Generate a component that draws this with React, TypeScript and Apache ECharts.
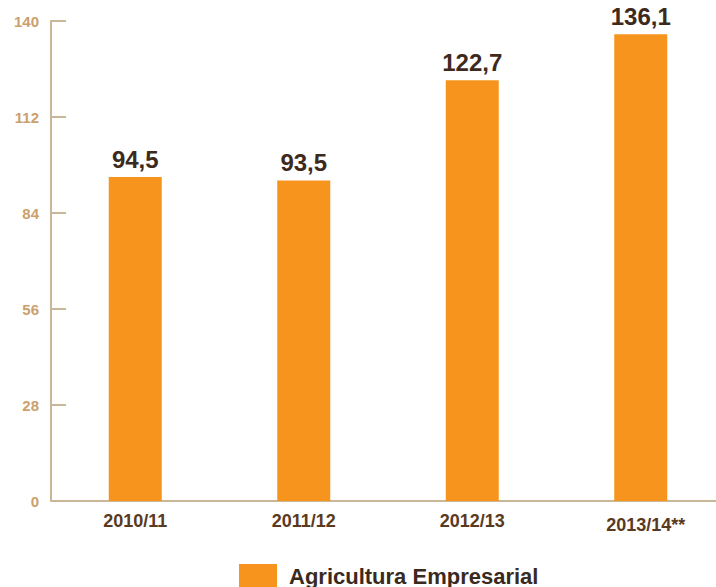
import React, { useEffect, useRef } from "react";
import * as echarts from "echarts";

const categories = ["2010/11", "2011/12", "2012/13", "2013/14**"];
const values = [94.5, 93.5, 122.7, 136.1];
const seriesName = "Agricultura Empresarial";
const yTicks = [0, 28, 56, 84, 112, 140];

const AXIS = "#C8B898";
const ORANGE = "#F7941E";
const FONT = "'Liberation Sans', Arial, sans-serif";

export default function App() {
  const ref = useRef<HTMLDivElement>(null);

  useEffect(() => {
    if (!ref.current) return;
    const chart = echarts.init(ref.current, undefined, { renderer: "svg" });
    chart.setOption({
      animation: false,
      backgroundColor: "#ffffff",
      // the x axis runs on past the right edge of the visible area
      grid: { left: 51, top: 21, width: 674, height: 480, containLabel: false },
      legend: {
        data: [seriesName],
        left: 239,
        top: 564,
        padding: 0,
        itemWidth: 38,
        itemHeight: 24,
        itemGap: 10,
        icon: "rect",
        textStyle: { fontFamily: FONT, fontSize: 22, fontWeight: "bold", color: "#3A2A1E", padding: [0, 0, 0, 7] },
      },
      xAxis: {
        type: "category",
        data: categories.map((c, i) =>
          i === categories.length - 1 ? { value: c, textStyle: { padding: [4, 0, 0, 10] } } : c
        ),
        axisLine: { lineStyle: { color: AXIS, width: 2 } },
        axisTick: { inside: true, length: 11, lineStyle: { color: AXIS, width: 2 } },
        axisLabel: { margin: 11, fontFamily: FONT, fontSize: 18, fontWeight: "bold", color: "#5A3A1E" },
      },
      yAxis: {
        type: "value",
        min: yTicks[0],
        max: yTicks[yTicks.length - 1],
        interval: yTicks[1] - yTicks[0],
        axisLine: { show: true, lineStyle: { color: AXIS, width: 2 } },
        axisTick: { show: true, inside: true, length: 15, lineStyle: { color: AXIS, width: 2 } },
        splitLine: { show: false },
        axisLabel: { margin: 12, fontFamily: FONT, fontSize: 15, fontWeight: "bold", color: "#CC9F6C" },
      },
      series: [
        {
          name: seriesName,
          type: "bar",
          data: values,
          barWidth: 53,
          itemStyle: { color: ORANGE },
          label: {
            show: true,
            position: "top",
            distance: 6,
            fontFamily: FONT,
            fontSize: 24,
            fontWeight: "bold",
            color: "#3E2A1C",
            formatter: (p: any) => String(p.value).replace(".", ","),
          },
        },
      ],
    });
    return () => chart.dispose();
  }, []);

  return (
    <div style={{ position: "fixed", left: 0, top: 0, width: 716, height: 587, overflow: "hidden" }}>
      <div ref={ref} style={{ width: 726, height: 587 }} />
    </div>
  );
}
